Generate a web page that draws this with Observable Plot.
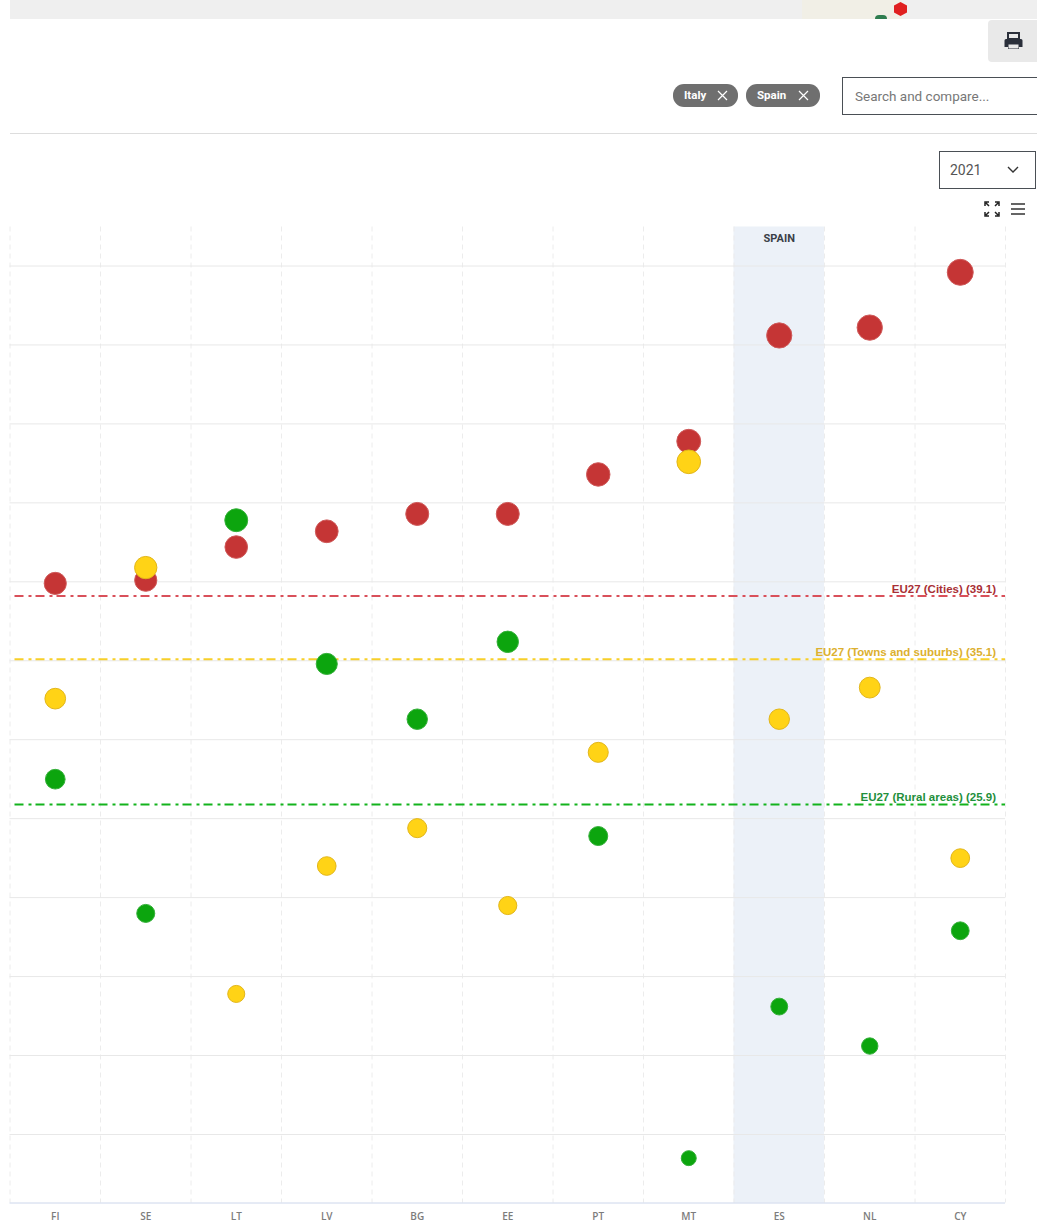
<!DOCTYPE html>
<html><head><meta charset="utf-8">
<style>
html,body{margin:0;padding:0;background:#fff;width:1037px;height:1225px;overflow:hidden;font-family:Roboto,"Liberation Sans",sans-serif}
.a{position:absolute;box-sizing:border-box}
.chip{background:#6f6f6f;color:#fff;font:bold 11.500px Roboto,"Liberation Sans",sans-serif;border-radius:11px;height:23px;top:84px;line-height:23px;padding-left:11px}
.chip svg{position:absolute;top:6px}
#chart{position:absolute;left:0;top:226px}
</style>
<script src="https://cdn.jsdelivr.net/npm/d3@7"></script>
<script src="https://cdn.jsdelivr.net/npm/@observablehq/plot@0.6"></script>
</head><body>
<div class="a" style="left:10px;top:0;width:1027px;height:19px;background:#efefef"></div>
<div class="a" style="left:802px;top:0;width:100px;height:19px;background:#f1efe6"></div>
<div class="a" style="left:875px;top:15px;width:12px;height:4px;background:#2f7d4f;border-radius:6px 6px 0 0"></div>
<div class="a" style="left:894px;top:2px;width:13px;height:14px;background:#e02020;clip-path:polygon(50% 0,100% 25%,100% 75%,50% 100%,0 75%,0 25%)"></div>
<div class="a" style="left:988px;top:20px;width:49px;height:42px;background:#e9e9e9;border-radius:4px 0 0 4px">
<svg width="49" height="42" style="position:absolute;left:0;top:0"><path d="M20 13h11v6h-11z" fill="none" stroke="#2a2f3a" stroke-width="2"/><path d="M18 19h15a1.500 1.500 0 0 1 1.500 1.500v6.500h-3.500v2h-11v-2h-3.500v-6.500a1.500 1.500 0 0 1 1.500-1.500z" fill="#2a2f3a"/><rect x="20.500" y="24.500" width="10" height="4" fill="#e9e9e9"/></svg></div>
<div class="a chip" style="left:673px;width:65px">Italy<svg width="11" height="11" style="left:44px"><path d="M1 1l9 9M10 1l-9 9" stroke="#fff" stroke-width="1.200"/></svg></div>
<div class="a chip" style="left:746px;width:74px">Spain<svg width="11" height="11" style="left:52px"><path d="M1 1l9 9M10 1l-9 9" stroke="#fff" stroke-width="1.200"/></svg></div>
<div class="a" style="left:842px;top:77px;width:200px;height:38px;border:1px solid #4a4f55;font-size:13.500px;line-height:36px;padding-left:12px;color:#777">Search and compare...</div>
<div class="a" style="left:10px;top:133px;width:1027px;height:1px;background:#ddd"></div>
<div class="a" style="left:939px;top:151px;width:97px;height:38px;border:1px solid #4a4f55;font-size:14px;line-height:36px;padding-left:10px;color:#555">2021
<svg width="12" height="8" style="position:absolute;left:67px;top:14px"><path d="M1 1l5 5 5-5" fill="none" stroke="#333" stroke-width="1.400"/></svg></div>
<svg class="a" style="left:984px;top:201px" width="16" height="16"><path d="M1 5V1h4M11 1h4v4M15 11v4h-4M5 15H1v-4M2 2l3 3M14 2l-3 3M14 14l-3-3M2 14l3-3" fill="none" stroke="#222" stroke-width="1.500"/></svg>
<svg class="a" style="left:1011px;top:202px" width="14" height="14"><path d="M0 2h14M0 7h14M0 12h14" stroke="#333" stroke-width="1.300"/></svg>
<div id="chart"></div>
<script>
const countries = ["FI","SE","LT","LV","BG","EE","PT","MT","ES","NL","CY"];
const cities = [39.9,40.1,42.2,43.2,44.3,44.3,46.8,48.9,55.6,56.1,59.6];
const towns  = [32.6,40.9,13.9,22.0,24.4,19.5,29.2,47.6,31.3,33.3,22.5];
const rural  = [27.5,19.0,43.9,34.8,31.3,36.2,23.9,3.5,13.1,10.6,17.9];
const gridValues = [5,10,15,20,25,30,35,40,45,50,55,60];
const yDomain = [0.66,62.47];
const highlighted = ["ES"];
const highlightLabel = "SPAIN";
const averages = [
  {label:"EU27 (Cities) (39.1)", value:39.1, line:"#d9505a", text:"#a92f35"},
  {label:"EU27 (Towns and suburbs) (35.1)", value:35.1, line:"#f7cf2a", text:"#dcb02f"},
  {label:"EU27 (Rural areas) (25.9)", value:25.9, line:"#13b31d", text:"#1f8f3c"}
];
const series = [
  {values:cities, fill:"#c53535", stroke:"#cf5a5a"},
  {values:rural,  fill:"#0ca50e", stroke:"#35b03a"},
  {values:towns,  fill:"#ffd316", stroke:"#e2b61a"}
];
const step = (1005-9.5)/countries.length;
const font = '"Open Sans","Liberation Sans",sans-serif';
const plot = Plot.plot({
  width:1037, height:999,
  marginTop:0.5, marginBottom:22.5, marginLeft:9.5, marginRight:32,
  style:{background:"transparent",fontFamily:font},
  x:{type:"band",domain:countries,padding:0,round:false,label:null},
  y:{domain:yDomain,axis:null},
  r:{type:"linear",domain:[3.5,59.6],range:[7.5,13]},
  marks:[
    Plot.cell(highlighted,{x:d=>d,fill:"#ecf1f8"}),
    Plot.ruleX(countries,{x:d=>d,dx:-step/2,stroke:"#ececec",strokeDasharray:"5,4"}),
    Plot.ruleX(countries.slice(-1),{x:d=>d,dx:step/2,stroke:"#ececec",strokeDasharray:"5,4"}),
    Plot.ruleY(gridValues,{stroke:"#e8e8e8"}),
    Plot.ruleY([yDomain[0]],{stroke:"#ccd6eb"}),
    Plot.axisX({tickSize:0,tickPadding:10,fontSize:10,fontWeight:600,fill:"#7c7c7c",label:null,fontFamily:font}),
    Plot.text(highlighted,{x:d=>d,text:()=>highlightLabel,frameAnchor:"top",dy:7.5,fontSize:11,fontWeight:"bold",fill:"#3a3f47",fontFamily:"Roboto,sans-serif"}),
    ...averages.map(a=>Plot.ruleY([a.value],{stroke:a.line,strokeWidth:2,strokeDasharray:"9,5,3,4",insetLeft:5,insetRight:0})),
    ...averages.map(a=>Plot.text([a],{y:"value",text:"label",frameAnchor:"right",textAnchor:"end",dx:-9.5,dy:-7,fontSize:11.5,fontWeight:"bold",fill:a.text,fontFamily:'"Liberation Sans",sans-serif'})),
    ...series.map(s=>Plot.dot(countries,{x:d=>d,y:(d,i)=>s.values[i],r:(d,i)=>s.values[i],fill:s.fill,stroke:s.stroke,strokeWidth:1}))
  ]
});
document.getElementById("chart").append(plot);
</script>
</body></html>
